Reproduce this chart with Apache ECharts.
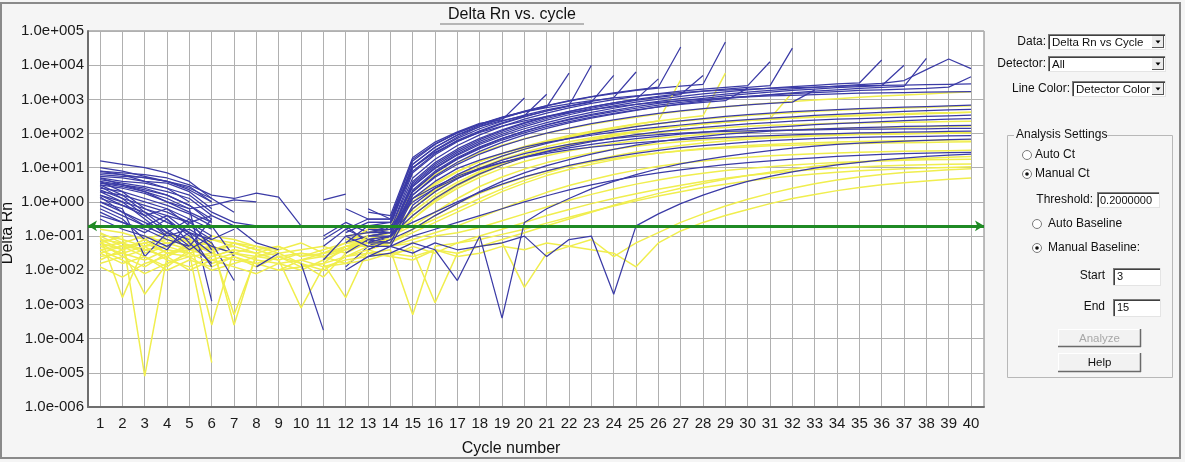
<!DOCTYPE html>
<html><head><meta charset="utf-8">
<script src="https://cdn.jsdelivr.net/npm/echarts@6/dist/echarts.min.js"></script>
<style>html,body{margin:0;padding:0;background:#f5f5f5}#c{width:1185px;height:462px}</style>
</head><body><div id="c"></div>
<script>
const _ = null;
// Cycle numbers (x axis)
const cycles = [1,2,3,4,5,6,7,8,9,10,11,12,13,14,15,16,17,18,19,20,21,22,23,24,25,26,27,28,29,30,31,32,33,34,35,36,37,38,39,40];
// y axis: decades from 1.0e-006 to 1.0e+005 (log10 exponents)
const yExponentMin = -6, yExponentMax = 5;
const threshold = 0.2;
// Delta Rn per cycle, stored as log10(Delta Rn); null = no positive value (not drawn on log axis)
const blueWells = [
[1.2,1.1,1.0,0.85,0.6,0.1,_,_,_,_,_,_,-0.3, -0.4,1.3,1.75,2.05,2.3,2.4,3.04],
[0.9,0.85,0.8,0.7,0.5,0.2,0.1,0.26,0.14,-0.7,_,_,-0.6, -0.6,1.1,1.6,1.95,2.2,2.38,2.52,3.15],
[0.85,0.8,0.7,0.6,0.45,0.0,_,_,_,_,_,-0.8,-0.5, -0.5,1.2,1.68,2.02,2.28,2.48,2.64,2.78,3.77],
[0.8,0.75,0.72,0.6,0.4,0.1,-0.3,_,_,_,_,_,-0.9, -0.7,1.0,1.5,1.86,2.14,2.36,2.54,2.69,2.82,4.0],
[0.75,0.7,0.6,0.55,0.3,-0.2,_,_,_,_,_,_,-0.7, -0.6,0.9,1.42,1.8,2.08,2.31,2.5,2.66,2.8,2.92,3.7],
[0.7,0.6,0.55,0.4,0.2,-0.3,-0.6,-0.7,_,_,-1.0,-0.6,-0.9, -0.8,0.85,1.38,1.76,2.05,2.29,2.49,2.66,2.81,2.94,3.05,3.8],
[0.65,0.55,0.45,0.3,0.1,-0.4,_,_,_,_,_,_,-1.0, -0.9,0.6,1.15,1.55,1.86,2.11,2.32,2.5,2.65,2.78,2.9,3.0,3.6],
[0.6,0.5,0.4,0.2,-0.1,-0.5,_,_,_,_,-1.1,-0.7,-1.2, -0.7,1.1,1.6,1.96,2.24,2.47,2.66,2.82,2.96,3.08,3.19,3.28,3.36,4.53],
[0.55,0.45,0.3,0.1,-0.2,-2.9,_,_,_,_,_,_,-1.3, -1.0,0.5,1.05,1.45,1.77,2.03,2.25,2.44,2.6,2.74,2.86,2.97,3.06,3.14,3.7],
[0.5,0.4,0.25,0.0,-0.3,-0.6,_,_,_,_,_,-0.9,-0.6, -0.6,1.0,1.52,1.9,2.2,2.44,2.64,2.81,2.95,3.07,3.17,3.26,3.33,3.39,3.44,4.68],
[0.4,0.3,0.1,-0.1,-0.35,-0.7,-1.6,_,_,_,_,-1.9,-1.3, -1.1,0.3,0.85,1.25,1.56,1.81,2.02,2.2,2.35,2.48,2.59,2.69,2.78,2.85,2.91,2.96,3.33],
[0.3,0.2,0.0,-0.2,-0.5,-0.8,_,_,_,_,_,_,-0.8, -0.8,0.7,1.25,1.65,1.96,2.21,2.42,2.6,2.75,2.88,2.99,3.09,3.17,3.24,3.3,3.35,3.4,4.1],
[0.2,0.0,-0.2,-0.4,-0.6,-1.0,_,_,_,_,_,-1.2,-1.0, -0.9,0.55,1.1,1.5,1.82,2.08,2.3,2.48,2.64,2.78,2.9,3.0,3.09,3.17,3.24,3.3,3.35,3.4,4.5],
[0.1,-0.1,-0.3,-0.6,-0.9,-1.3,-1.5,_,_,_,-1.3,-0.8,-1.1, -1.2,0.2,0.72,1.1,1.4,1.64,1.84,2.01,2.16,2.29,2.4,2.5,2.59,2.66,2.73,2.79,2.84,2.88,2.92,3.27],
[0.0,-0.2,-1.6,-0.9,-1.1,_,_,_,_,_,_,_,-0.8, -0.9,0.45,1.0,1.4,1.72,1.98,2.2,2.39,2.55,2.69,2.81,2.92,3.01,3.09,3.16,3.22,3.28,3.33,3.37,3.41,3.45,3.48,4.15],
[-0.1,-0.4,-0.7,-1.0,-0.8,-1.2,-2.3,_,_,_,_,-1.5,-1.1, -1.0,0.3,0.86,1.27,1.59,1.85,2.07,2.26,2.42,2.56,2.68,2.79,2.88,2.96,3.03,3.1,3.16,3.21,3.26,3.3,3.34,3.37,3.4,4.0],
[-0.2,-0.5,-1.1,-1.4,-0.6,_,_,_,_,_,_,_,-1.4, -1.1,0.2,0.76,1.16,1.48,1.74,1.96,2.15,2.31,2.45,2.57,2.68,2.78,2.87,2.95,3.02,3.08,3.14,3.19,3.24,3.28,3.32,3.35,3.38,4.2],
[0.6,0.3,-0.2,-0.5,-1.0,-1.5,_,_,_,_,_,-1.0,-0.9, -0.9,0.45,0.98,1.37,1.68,1.93,2.14,2.32,2.48,2.62,2.74,2.85,2.94,3.02,3.09,3.15,3.21,3.26,3.31,3.35,3.39,3.43,3.47,3.55,3.87,4.18,3.9],
[0.5,0.2,-0.3,-0.8,-1.3,-0.5,_,_,_,_,_,_,-1.1, -1.0,0.35,0.9,1.3,1.61,1.86,2.07,2.25,2.4,2.53,2.64,2.74,2.83,2.91,2.98,3.04,3.09,3.13,3.17,3.2,3.23,3.26,3.28,3.3,3.32,3.36,3.66],
[0.3,0.0,-0.5,-1.0,_,_,_,_,_,_,_,-0.2,-0.5, -0.5,1.25,1.7,2.02,2.27,2.47,2.63,2.76,2.87,2.96,3.04,3.1,3.15,3.2,3.24,3.27,3.3,3.32,3.34,3.36,3.38,3.4,3.41,3.42,3.43,3.44,3.45],
[0.15,-0.3,-0.7,-0.4,-0.9,-1.1,_,-1.9,-1.5,_,_,_,-1.2, -1.2,0.1,0.6,0.98,1.22,1.42,1.6,1.74,1.85,1.95,2.04,2.12,2.19,2.25,2.31,2.36,2.41,2.45,2.49,2.53,2.56,2.59,2.62,2.65,2.67,2.69,2.71],
[0.45,0.1,-0.4,-0.9,-1.4,-1.0,_,_,_,_,-1.7,-1.0,-1.3, -1.3,-0.1,0.4,0.8,1.1,1.34,1.54,1.71,1.86,1.99,2.1,2.2,2.29,2.37,2.44,2.5,2.55,2.6,2.64,2.67,2.7,2.73,2.75,2.77,2.79,2.81,2.83],
[0.7,0.5,0.3,0.0,-0.2,-0.1,0.06,0.0,_,-0.7,-0.7,_,-1.0, -1.0,-0.4,0.1,0.5,0.82,1.08,1.3,1.48,1.63,1.76,1.87,1.97,2.05,2.12,2.18,2.23,2.28,2.32,2.36,2.39,2.42,2.44,2.46,2.48,2.5,2.52,2.54],
[-0.4,-0.6,-0.8,-1.1,-1.3,_,_,_,_,-1.8,-3.75,_,-1.4, -1.1,-0.8,-0.4,-0.05,0.3,0.6,0.85,1.06,1.24,1.4,1.54,1.66,1.76,1.85,1.92,1.98,2.03,2.07,2.1,2.13,2.15,2.17,2.19,2.21,2.22,2.23,2.24],
[0.9,0.8,0.6,0.4,0.0,_,_,_,_,_,0.06,0.23,_, -1.3,-1.0,-0.8,-0.6,-0.4,-0.2,0.0,0.18,0.35,0.5,0.63,0.75,0.85,0.94,1.02,1.09,1.15,1.2,1.25,1.29,1.33,1.36,1.39,1.41,1.43,1.44,1.45],
[0.0,-0.3,-0.6,-0.9,-0.5,-1.4,_,_,_,_,_,_,-1.0, -0.9,-0.6,-0.3,0.0,0.28,0.52,0.73,0.91,1.07,1.2,1.32,1.42,1.51,1.59,1.65,1.7,1.75,1.79,1.82,1.85,1.87,1.89,1.9,1.91,1.92,1.93,1.94],
[0.35,0.1,-0.1,-0.3,-0.6,-0.4,-0.7,-1.2,-1.4,_,_,-1.2,-0.7, -0.7,0.0,0.4,0.7,0.95,1.15,1.32,1.46,1.58,1.68,1.77,1.85,1.92,1.98,2.04,2.09,2.14,2.18,2.22,2.26,2.29,2.32,2.35,2.38,2.4,2.42,2.44],
[1.0,0.9,0.75,0.6,0.35,0.0,_,_,_,_,_,_,-0.2, -0.5,1.0,1.45,1.78,2.03,2.22,2.37,2.5,2.61,2.7,2.78,2.85,2.91,2.96,3.0,3.04,3.07,3.1,3.12,3.14,3.16,3.18,3.19,3.2,3.21,3.22,3.23],
[-0.3,-0.6,-0.9,-0.5,-1.2,-1.8,_,_,_,_,_,_,-1.6, -1.5,-1.2,-1.4,-2.3,-1.0,-3.4,-0.6,-0.2,0.1,0.38,0.6,0.8,0.97,1.11,1.23,1.33,1.42,1.5,1.57,1.63,1.68,1.72,1.75,1.78,1.8,1.82,1.84],
[0.2,-0.1,-0.4,-0.2,-0.7,-1.1,-0.8,_,_,_,_,-2.0,-1.6, -1.3,-1.5,-1.2,-1.4,-1.3,-1.2,-1.0,-1.6,-1.1,-1.0,-2.7,-0.7,-0.35,-0.05,0.2,0.42,0.6,0.75,0.88,0.99,1.08,1.16,1.23,1.28,1.33,1.37,1.4],
[0.55,0.5,0.35,0.2,-0.1,-0.6,_,_,_,_,_,_,-0.9, -0.8,0.1,0.45,0.75,0.98,1.16,1.3,1.42,1.52,1.6,1.67,1.73,1.78,1.82,1.86,1.89,1.92,1.94,1.96,1.98,2.0,2.02,2.03,2.04,2.05,2.06,2.07],
[-0.5,-0.8,-1.0,-1.3,-0.9,-1.9,_,_,_,_,_,_,-1.2, -1.0,-0.2,0.3,0.68,0.98,1.22,1.41,1.56,1.68,1.78,1.86,1.92,1.97,2.01,2.04,2.06,2.08,2.09,2.1,2.11,2.12,2.13,2.13,2.14,2.14,2.15,2.15]
];
const yellowWells = [
[-0.8,-0.9,-1.1,-0.9,-1.2,-1.0,-1.1,-1.3,_,_,_,-1.1,-1.0, -0.9,-0.2,0.3,0.7,1.0,1.25,1.45,1.62,1.76,1.88,1.98,2.07,2.15,2.22,2.28,2.33,2.38,2.42,2.46,2.49,2.52,2.54,2.56,2.58,2.6,2.61,2.62],
[-1.0,-2.8,-1.3,-1.0,-1.4,-1.1,-1.3,_,_,_,_,-1.2,-1.2, -1.1,-0.5,0.0,0.4,0.72,0.98,1.18,1.35,1.49,1.61,1.71,1.79,1.86,1.92,1.97,2.01,2.05,2.08,2.11,2.13,2.15,2.17,2.18,2.19,2.2,2.21,2.22],
[-1.2,-1.0,-5.1,-1.6,-1.2,-1.5,-1.2,-1.4,-1.6,-1.5,-1.6,-1.3,-1.3, -1.0,-0.7,-0.3,0.1,0.45,0.73,0.96,1.15,1.3,1.43,1.54,1.63,1.7,1.76,1.81,1.85,1.88,1.91,1.93,1.95,1.97,1.98,1.99,2.0,2.01,2.02,2.03],
[-0.9,-1.2,-1.5,-1.3,-1.0,-3.6,-1.4,_,_,_,-1.8,-2.8,-1.4, -1.2,-0.9,-0.6,-0.3,0.0,0.3,0.55,0.77,0.95,1.1,1.23,1.34,1.43,1.5,1.56,1.61,1.65,1.68,1.71,1.73,1.75,1.77,1.78,1.79,1.8,1.81,1.82],
[-1.4,-1.3,-1.2,-1.1,-1.3,-1.2,-3.6,-1.5,-1.3,-1.6,-1.5,-1.4,-1.1, -1.3,-1.1,-0.9,-0.7,-0.45,-0.2,0.05,0.28,0.48,0.65,0.8,0.93,1.04,1.13,1.2,1.26,1.31,1.35,1.38,1.41,1.43,1.45,1.47,1.48,1.49,1.5,1.51],
[-1.1,-1.4,-2.7,-1.8,-1.5,-4.7,_,_,_,_,_,-1.6,-1.5, -1.4,-3.3,-1.3,-1.2,-1.1,-0.95,-0.8,-0.62,-0.45,-0.28,-0.12,0.03,0.17,0.3,0.42,0.52,0.61,0.69,0.76,0.82,0.87,0.91,0.94,0.97,0.99,1.01,1.03],
[-1.6,-1.5,-1.7,-1.4,-1.5,-1.3,-1.5,-1.6,-1.7,-3.1,-1.9,-1.7,-1.6, -1.5,-1.4,-2.95,-1.5,-1.3,-1.2,-2.5,-1.5,-1.3,-1.4,-1.5,-1.9,-1.2,-0.85,-0.6,-0.4,-0.22,-0.05,0.1,0.22,0.33,0.42,0.5,0.56,0.61,0.66,0.7],
[-0.95,-1.1,-1.3,-1.2,-1.4,-1.1,-1.2,-1.3,-1.5,-1.4,-1.3,-1.5,-1.2, -1.3,-1.2,-1.0,-0.9,-0.75,-0.55,-0.35,-0.15,0.05,0.22,0.38,0.52,0.64,0.75,0.84,0.92,0.98,1.03,1.08,1.12,1.15,1.18,1.2,1.22,1.23,1.24,1.25],
[-1.3,-1.2,-1.0,-1.2,-1.1,-1.3,-3.3,-1.6,-1.4,_,_,-1.0,-0.9, -0.8,0.1,0.55,0.9,1.18,1.41,1.6,1.76,1.9,2.02,2.12,2.21,2.29,2.36,2.42,2.48,2.53,2.57,2.61,2.65,2.68,2.71,2.73,2.75,2.77,2.79,2.81],
[-1.5,-1.3,-1.4,-1.6,-1.2,-1.4,-1.3,-1.5,_,-1.7,-1.5,-1.2,-0.8, -0.7,0.3,0.8,1.15,1.43,1.66,1.85,2.01,2.15,2.27,2.38,2.48,2.57,2.65,2.72,2.78,2.84,2.89,2.94,2.98,3.02,3.06,3.1,3.13,3.16,3.19,3.22],
[-1.7,-1.4,-1.2,-1.5,-1.6,-2.0,-1.8,-1.6,-1.5,-1.8,-2.2,-1.5,-1.0, -0.9,0.0,0.5,0.88,1.18,1.42,1.62,1.79,1.94,2.07,2.18,2.28,2.37,2.45,2.52,3.77],
[-1.2,-1.6,-1.9,-1.5,-1.4,-1.6,-1.4,_,-2.0,-1.9,-1.8,-1.3,-1.1, -1.0,-0.2,0.35,0.75,1.07,1.33,1.55,1.74,1.9,2.04,2.16,2.27,2.37,3.57],
[-1.0,-1.3,-1.6,-1.9,-1.4,-1.3,-1.5,-1.7,-1.8,-2.0,-1.7,-1.4,-1.2, -1.1,-0.5,0.05,0.47,0.8,1.08,1.31,1.5,1.67,1.81,1.93,2.04,2.13,2.21,2.28,2.34,2.39,2.44,3.2],
[-1.8,-1.6,-1.4,-1.3,-1.5,-1.8,-1.6,-1.9,-1.6,-1.8,-2.0,-1.6,-1.3, -1.2,-0.8,-0.4,-0.05,0.25,0.5,0.72,0.9,1.05,1.17,1.27,1.36,1.43,1.49,1.54,1.58,1.61,1.64,1.66,1.68,1.7,1.71,1.72,1.73,1.74,1.75,1.76],
[-1.1,-1.2,-1.4,-1.6,-1.3,-1.4,-1.2,-1.4,-1.3,-1.6,-1.4,-1.2,-1.1, -0.9,-0.3,0.2,0.58,0.89,1.14,1.35,1.52,1.66,1.78,1.88,1.96,2.03,2.09,2.14,2.18,2.21,2.24,2.26,2.28,2.3,2.31,2.32,2.33,2.34,2.35,2.36],
[-1.9,-2.2,-1.8,-1.6,-2.0,-1.7,-1.9,-2.1,-1.8,-1.7,-1.9,-1.8,-1.7, -1.5,-1.6,-1.4,-1.5,-1.3,-1.1,-0.9,-0.7,-0.5,-0.3,-0.1,0.08,0.25,0.4,0.54,0.66,0.77,0.87,0.96,1.04,1.1,1.16,1.21,1.25,1.28,1.31,1.33],
[-1.4,-1.7,-2.1,-1.8,-1.6,-1.5,-1.7,-1.8,-1.6,-1.9,-1.8,-1.6,-1.4, -1.6,-1.3,-1.5,-1.2,-1.0,-0.8,-0.6,-0.4,-0.22,-0.05,0.1,0.24,0.37,0.49,0.6,0.69,0.77,0.84,0.9,0.95,0.99,1.02,1.05,1.07,1.09,1.1,1.11],
[-1.3,-1.5,-1.3,-1.7,-1.9,-1.6,-1.4,-1.5,-1.7,-1.5,-1.6,-1.4,-1.0, -1.1,-0.4,0.12,0.52,0.85,1.12,1.34,1.53,1.69,1.83,1.95,2.05,2.14,2.22,2.29,2.34,2.38,2.42,2.45,2.48,2.5,2.52,2.54,2.56,2.58,2.6,2.62],
[-1.5,-1.8,-1.6,-2.0,-1.7,-1.9,-1.6,-1.8,-2.0,-1.7,-1.6,-1.8,-1.5, -1.6,-1.7,-1.4,-1.6,-1.5,-1.3,-1.4,-1.2,-1.3,-1.1,-1.6,-1.2,-0.9,-0.6,-0.35,-0.12,0.08,0.25,0.4,0.53,0.64,0.73,0.8,0.86,0.9,0.94,0.97],
[-1.2,-1.4,-1.1,-1.5,-1.3,-1.7,-1.5,-1.3,-1.4,-1.2,-1.5,-1.3,-1.2, -1.2,-0.8,-0.5,-0.2,0.1,0.38,0.63,0.85,1.04,1.2,1.34,1.46,1.56,1.65,1.72,1.78,1.83,1.87,1.9,1.93,1.95,1.97,1.98,1.99,2.0,2.01,2.02]
];
const blueColor = '#3b3ba6', yellowColor = '#f0ee4e', thresholdColor = '#1f8a24';

// The y axis is the log10 of Delta Rn, drawn on a linear scale of decades.
function wellSeries(logs, color, width, name) {
  return {
    type: 'line', name: name, silent: true, animation: false,
    showSymbol: false, symbol: 'none', connectNulls: false,
    lineStyle: { color: color, width: width },
    data: cycles.map((c, i) => {
      const v = logs[i];
      return (v === null || v === undefined) ? [c, '-'] : [c, v];
    })
  };
}
const series = [];
const n = Math.max(blueWells.length, yellowWells.length);
for (let i = 0; i < n; i++) {
  if (yellowWells[i]) series.push(wellSeries(yellowWells[i], yellowColor, 1.5, 'Y' + i));
  if (blueWells[i]) series.push(wellSeries(blueWells[i], blueColor, 1.25, 'B' + i));
}
series.push({
  type: 'line', name: 'threshold', data: [], silent: true, animation: false,
  markLine: {
    silent: true, animation: false, symbol: ['arrow', 'arrow'], symbolSize: [8, 9],
    lineStyle: { color: thresholdColor, width: 3, type: 'solid' },
    label: { show: false }, emphasis: { disabled: true },
    data: [{ yAxis: Math.log10(threshold) }]
  }
});

const F = '"Liberation Sans", Arial, sans-serif';
function txt(x, y, t, opt) {
  opt = opt || {};
  return { type: 'text', x: 0, y: 0, silent: true, z: 20,
    style: { x: x, y: y, text: t, font: (opt.size || 12) + 'px ' + F, fill: opt.fill || '#111',
      align: opt.align || 'left', verticalAlign: 'middle' } };
}
function rect(x, y, w, h, fill, stroke, lw) {
  return { type: 'rect', silent: true, z: 10, shape: { x: x, y: y, width: w, height: h },
    style: { fill: fill || 'none', stroke: stroke || 'none', lineWidth: lw || 1 } };
}
function line(x1, y1, x2, y2, stroke, lw) {
  return { type: 'line', silent: true, z: 11, shape: { x1: x1, y1: y1, x2: x2, y2: y2 },
    style: { stroke: stroke, lineWidth: lw || 1 } };
}
function sunken(x, y, w, h) {
  return [rect(x, y, w, h, '#ffffff', null),
    line(x, y + 0.5, x + w, y + 0.5, '#7c7c7c'), line(x + 0.5, y, x + 0.5, y + h, '#7c7c7c'),
    line(x + 1, y + 1.5, x + w - 1, y + 1.5, '#404040'), line(x + 1.5, y + 1, x + 1.5, y + h - 1, '#404040'),
    line(x, y + h - 0.5, x + w, y + h - 0.5, '#e4e4e4'), line(x + w - 0.5, y, x + w - 0.5, y + h, '#e4e4e4')];
}
function dropdown(x, y, w, h, t) {
  const els = sunken(x, y, w, h);
  els.push(txt(x + 4, y + h / 2 + 0.5, t, { size: 11.5 }));
  const bx = x + w - 14, by = y + 2, bw = 12, bh = h - 4;
  els.push(rect(bx, by, bw, bh, '#ececec', null));
  els.push(line(bx, by + bh - 0.5, bx + bw, by + bh - 0.5, '#555'));
  els.push(line(bx + bw - 0.5, by, bx + bw - 0.5, by + bh, '#555'));
  els.push({ type: 'polygon', silent: true, z: 12,
    shape: { points: [[bx + 3.5, by + bh / 2 - 1.5], [bx + 8.5, by + bh / 2 - 1.5], [bx + 6, by + bh / 2 + 1.5]] },
    style: { fill: '#000' } });
  return els;
}
function radio(cx, cy, on) {
  const els = [{ type: 'circle', silent: true, z: 12, shape: { cx: cx, cy: cy, r: 4.5 },
    style: { fill: '#fff', stroke: '#7a7a7a', lineWidth: 1 } }];
  if (on) els.push({ type: 'circle', silent: true, z: 13, shape: { cx: cx, cy: cy, r: 1.8 }, style: { fill: '#111' } });
  return els;
}
function button(x, y, w, h, t, enabled) {
  return [rect(x, y, w, h, '#f2f2f2', null),
    line(x, y + 0.5, x + w, y + 0.5, '#ffffff'), line(x + 0.5, y, x + 0.5, y + h, '#ffffff'),
    line(x, y + h - 0.5, x + w, y + h - 0.5, '#6a6a6a', 1.5), line(x + w - 0.5, y, x + w - 0.5, y + h, '#6a6a6a', 1.5),
    txt(x + w / 2, y + h / 2 + 0.5, t, { align: 'center', size: 11.5, fill: enabled ? '#111' : '#a8a8a8' })];
}

const graphics = [].concat(
  [ { type: 'rect', silent: true, z: 30, shape: { x: 1, y: 3, width: 1179, height: 455 },
      style: { fill: 'none', stroke: '#8a8a8a', lineWidth: 2 } } ],
  [ txt(512, 15, 'Delta Rn vs. cycle', { size: 16, align: 'center' }),
    line(440, 24, 584, 24, '#a0a0a0', 1.5),
    txt(511, 449, 'Cycle number', { size: 16, align: 'center' }),
    { type: 'text', silent: true, z: 20, x: 8, y: 233, rotation: Math.PI / 2,
      style: { x: 0, y: 0, text: 'Delta Rn', font: '16px ' + F, fill: '#111', align: 'center', verticalAlign: 'middle' } } ],
  [ txt(1046, 42, 'Data:', { align: 'right' }) ], dropdown(1048, 34, 118, 16, 'Delta Rn vs Cycle'),
  [ txt(1046, 64, 'Detector:', { align: 'right' }) ], dropdown(1048, 56, 118, 16, 'All'),
  [ txt(1070, 89, 'Line Color:', { align: 'right' }) ], dropdown(1072, 81, 94, 16, 'Detector Color'),
  [ rect(1007.5, 135.5, 165, 242, 'none', '#b8b8b8'),
    rect(1014, 128, 90, 14, '#f5f5f5', null),
    txt(1016, 135, 'Analysis Settings') ],
  radio(1027, 155, false), [ txt(1035, 155, 'Auto Ct') ],
  radio(1027, 174, true), [ txt(1035, 174, 'Manual Ct') ],
  [ txt(1093, 200, 'Threshold:', { align: 'right' }) ], sunken(1097, 192, 63, 16), [ txt(1100, 200.5, '0.2000000', { size: 11 }) ],
  radio(1037, 224, false), [ txt(1048, 224, 'Auto Baseline') ],
  radio(1037, 248, true), [ txt(1048, 248, 'Manual Baseline:') ],
  [ txt(1105, 276, 'Start', { align: 'right' }) ], sunken(1113, 268, 48, 18), [ txt(1117, 277, '3', { size: 11 }) ],
  [ txt(1105, 307, 'End', { align: 'right' }) ], sunken(1113, 299, 48, 18), [ txt(1117, 308, '15', { size: 11 }) ],
  button(1058, 329, 83, 18, 'Analyze', false),
  button(1058, 353, 83, 19, 'Help', true)
);

const chart = echarts.init(document.getElementById('c'), null, { renderer: 'canvas' });
chart.setOption({
  backgroundColor: '#f5f5f5',
  animation: false,
  grid: { left: 88, top: 31, width: 896, height: 376, show: true, backgroundColor: '#ffffff',
    borderColor: '#7a7a7a', borderWidth: 1, containLabel: false, outerBoundsMode: 'none' },
  xAxis: {
    type: 'value', min: 0.46, max: 40.58,
    axisLine: { show: true, onZero: false, lineStyle: { color: '#6e6e6e', width: 2 } },
    axisTick: { show: false, customValues: cycles },
    axisLabel: { customValues: cycles, color: '#1a1a1a', fontSize: 15, fontFamily: 'Liberation Sans', margin: 9 },
    splitLine: { show: true, lineStyle: { color: '#b0b0b0', width: 1 } }
  },
  yAxis: {
    type: 'value', min: yExponentMin, max: yExponentMax, interval: 1,
    axisLine: { show: true, onZero: false, lineStyle: { color: '#6e6e6e', width: 2 } },
    axisTick: { show: false },
    axisLabel: { color: '#1a1a1a', fontSize: 15, fontFamily: 'Liberation Sans', margin: 4,
      formatter: v => { const e = Math.round(v); return '1.0e' + (e < 0 ? '-' : '+') + String(Math.abs(e)).padStart(3, '0'); } },
    splitLine: { show: true, lineStyle: { color: '#b0b0b0', width: 1 } }
  },
  series: series,
  graphic: graphics
});
</script></body></html>
